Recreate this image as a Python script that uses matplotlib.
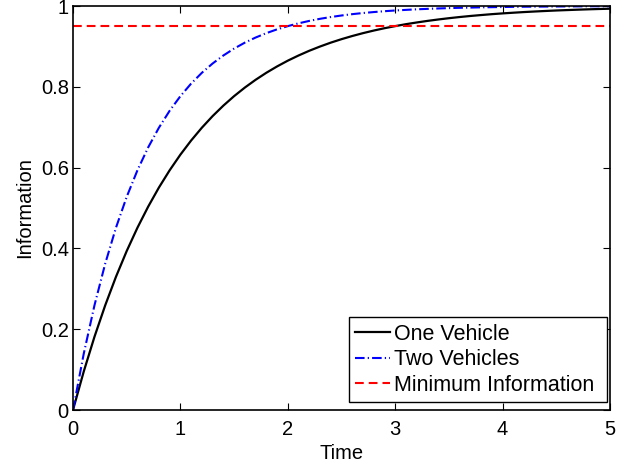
import matplotlib
matplotlib.use("Agg")
import matplotlib.pyplot as plt

plt.rcParams['font.family'] = ['Liberation Sans', 'DejaVu Sans']

time = [0.0, 0.1, 0.2, 0.3, 0.4, 0.5, 0.6, 0.7, 0.8, 0.9,
        1.0, 1.1, 1.2, 1.3, 1.4, 1.5, 1.6, 1.7, 1.8, 1.9,
        2.0, 2.1, 2.2, 2.3, 2.4, 2.5, 2.6, 2.7, 2.8, 2.9,
        3.0, 3.1, 3.2, 3.3, 3.4, 3.5, 3.6, 3.7, 3.8, 3.9,
        4.0, 4.1, 4.2, 4.3, 4.4, 4.5, 4.6, 4.7, 4.8, 4.9, 5.0]

one_vehicle = [0.0, 0.0952, 0.1813, 0.2592, 0.3297, 0.3935, 0.4512, 0.5034, 0.5507, 0.5934,
               0.6321, 0.6671, 0.6988, 0.7275, 0.7534, 0.7769, 0.7981, 0.8173, 0.8347, 0.8504,
               0.8647, 0.8775, 0.8892, 0.8997, 0.9093, 0.9179, 0.9257, 0.9328, 0.9392, 0.9450,
               0.9502, 0.9550, 0.9592, 0.9631, 0.9666, 0.9698, 0.9727, 0.9753, 0.9776, 0.9798,
               0.9817, 0.9834, 0.9850, 0.9864, 0.9877, 0.9889, 0.9899, 0.9909, 0.9918, 0.9926, 0.9933]

two_vehicles = [0.0, 0.1393, 0.2592, 0.3624, 0.4512, 0.5276, 0.5934, 0.6501, 0.6988, 0.7408,
                0.7769, 0.8080, 0.8347, 0.8577, 0.8775, 0.8946, 0.9093, 0.9219, 0.9328, 0.9422,
                0.9502, 0.9571, 0.9631, 0.9683, 0.9727, 0.9765, 0.9798, 0.9826, 0.9850, 0.9871,
                0.9889, 0.9904, 0.9918, 0.9929, 0.9939, 0.9948, 0.9955, 0.9961, 0.9967, 0.9971,
                0.9975, 0.9979, 0.9982, 0.9984, 0.9986, 0.9988, 0.9990, 0.9991, 0.9993, 0.9994, 0.9994]

min_info_t = [0.0, 5.0]
min_info = [0.95, 0.95]

xticks = [0, 1, 2, 3, 4, 5]
yticks = [0, 0.2, 0.4, 0.6, 0.8, 1]
ytick_labels = ['0', '0.2', '0.4', '0.6', '0.8', '1']

fig = plt.figure(figsize=(6.31, 4.63), dpi=100)
ax = fig.add_axes([73/631, 1 - 410/463, (610 - 73)/631, (410 - 6)/463])

ax.plot(time, one_vehicle, color='black', lw=1.6, label='One Vehicle')
ax.plot(time, two_vehicles, color='blue', lw=1.5, linestyle=(0, (4.6, 1.5, 0.6, 1.5)), label='Two Vehicles')
ax.plot(min_info_t, min_info, color='red', lw=1.5, linestyle=(0, (4.2, 2.4)), label='Minimum Information ')

ax.set_xlim(0, 5)
ax.set_ylim(0, 1)
ax.set_xticks(xticks)
ax.set_xticklabels([str(v) for v in xticks])
ax.set_yticks(yticks)
ax.set_yticklabels(ytick_labels)
ax.tick_params(direction='in', top=True, right=True, labelsize=14.5, length=5, width=0.8)
ax.tick_params(axis='x', pad=7.5)
ax.tick_params(axis='y', pad=3)
for s in ax.spines.values():
    s.set_linewidth(1.2)

ax.set_xlabel('Time', fontsize=14.5, labelpad=3)
ax.set_ylabel('Information', fontsize=14.5, labelpad=5)

leg = ax.legend(loc='lower right', bbox_to_anchor=(0.9944, 0.0198), borderaxespad=0,
                fontsize=15.5, frameon=True, fancybox=False,
                edgecolor='black', framealpha=1, borderpad=0.3, labelspacing=0.2,
                handlelength=1.6, handletextpad=0.22)
leg.get_frame().set_linewidth(1.0)

fig.savefig('out.png', dpi=100)
